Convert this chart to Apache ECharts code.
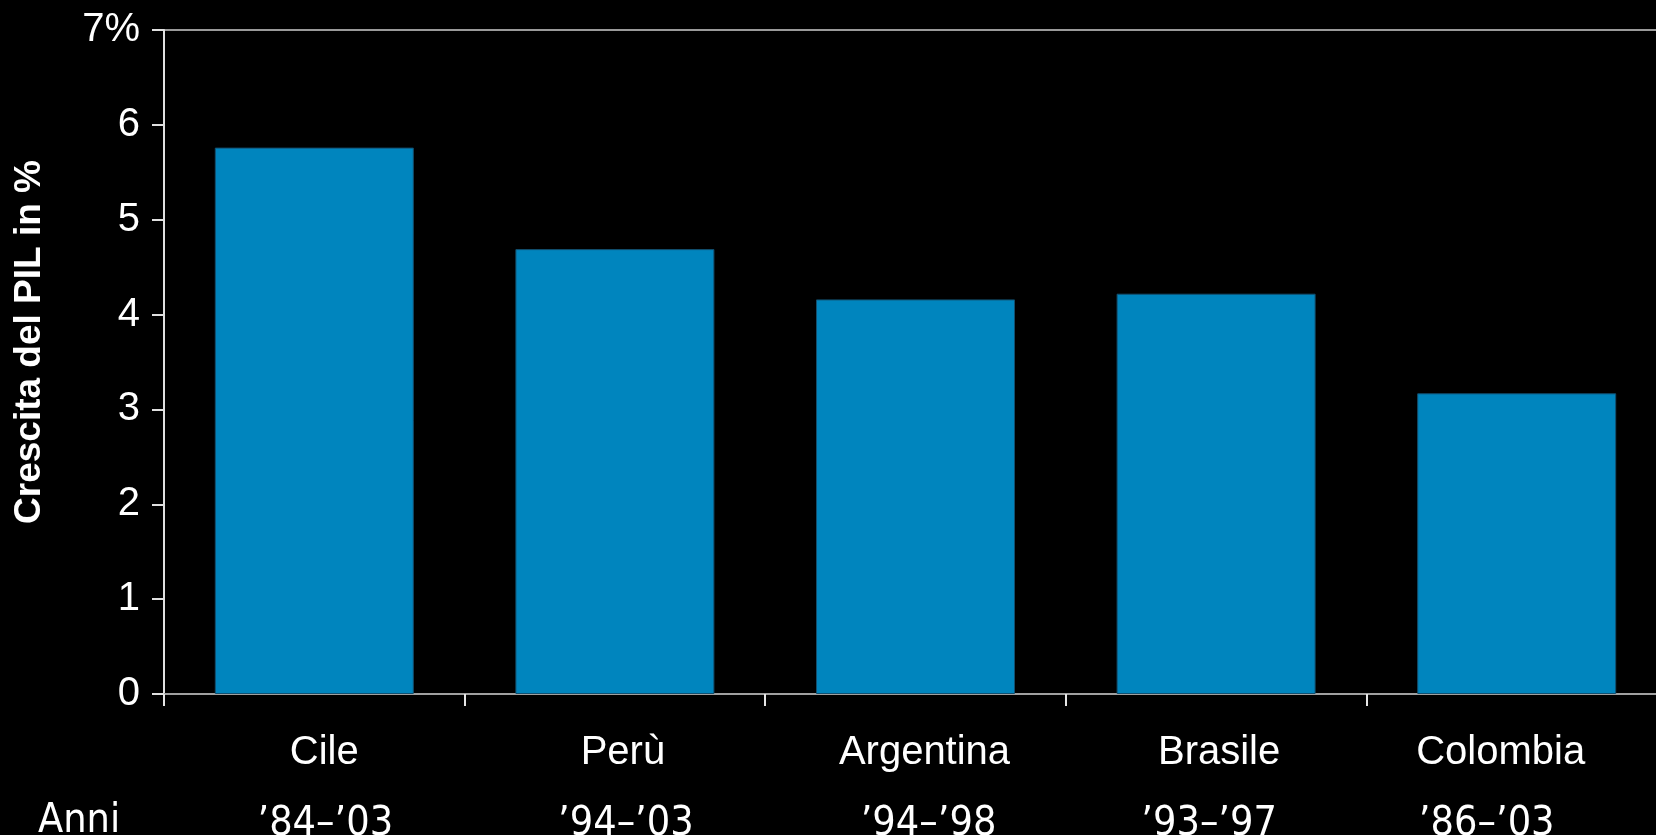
<!DOCTYPE html>
<html>
<head>
<meta charset="utf-8">
<title>Crescita del PIL</title>
<script src="https://cdn.jsdelivr.net/npm/echarts@6/dist/echarts.min.js"></script>
<style>
  html, body { margin: 0; padding: 0; background: #000; }
  #chart { width: 1656px; height: 835px; }
</style>
</head>
<body>
<div id="chart"></div>
<script>
// GDP growth by country and period
const countries = ['Cile', 'Perù', 'Argentina', 'Brasile', 'Colombia'];
const periods = ['\u201984\u2013\u201903', '\u201994\u2013\u201903', '\u201994\u2013\u201998', '\u201993\u2013\u201997', '\u201986\u2013\u201903'];
const growth = [5.76, 4.69, 4.16, 4.22, 3.17];
const yTicks = [0, 1, 2, 3, 4, 5, 6, 7];

// small horizontal nudges (px) for the two label rows under each bar
const nameShift = [10, 8, 9, 3, -16];
const periodShift = [11, 11, 13, -7, -30];

const SANS = '"Liberation Sans", Arial, sans-serif';
const NARROW = '"Liberation Sans Narrow", "DejaVu Sans Condensed", sans-serif';

function shiftPad(dx) {
  return dx >= 0 ? [0, 0, 0, 2 * dx] : [0, -2 * dx, 0, 0];
}

const rich = {};
countries.forEach((c, i) => {
  rich['n' + i] = {
    fontFamily: SANS, fontSize: 40, color: '#fff', lineHeight: 60,
    padding: shiftPad(nameShift[i])
  };
  rich['p' + i] = {
    fontFamily: NARROW, fontSize: 41, color: '#fff', lineHeight: 82,
    padding: shiftPad(periodShift[i])
  };
});

const chart = echarts.init(document.getElementById('chart'), null, { renderer: 'canvas' });

chart.setOption({
  backgroundColor: '#000',
  animation: false,
  grid: {
    left: 164, top: 30, width: 1503, bottom: 141,
    outerBoundsMode: 'none',
    containLabel: false,
    show: true, borderColor: '#9a9a9a', borderWidth: 2, backgroundColor: 'transparent'
  },
  xAxis: {
    type: 'category',
    data: countries,
    boundaryGap: true,
    axisLine: { show: true, lineStyle: { color: '#a0a0a0', width: 2 } },
    axisTick: { show: true, length: 12, inside: false, lineStyle: { color: '#e6e6e6', width: 2 } },
    axisLabel: {
      margin: 29,
      interval: 0,
      formatter: (value, idx) => '{n' + idx + '|' + value + '}\n{p' + idx + '|' + periods[idx] + '}',
      rich: rich
    },
    splitLine: { show: false }
  },
  yAxis: {
    type: 'value',
    min: yTicks[0],
    max: yTicks[yTicks.length - 1],
    interval: 1,
    axisLine: { show: true, lineStyle: { color: '#e0e0e0', width: 2 } },
    axisTick: { show: true, length: 12, lineStyle: { color: '#e0e0e0', width: 2 } },
    axisLabel: {
      margin: 24,
      color: '#fff',
      fontFamily: SANS,
      fontSize: 40,
      formatter: v => (v === yTicks[yTicks.length - 1] ? v + '%' : String(v))
    },
    splitLine: { show: false }
  },
  graphic: [
    {
      type: 'text',
      x: 30, y: 342,
      rotation: Math.PI / 2,
      style: {
        text: 'Crescita del PIL in %',
        fill: '#fff',
        font: 'bold 37px ' + SANS,
        textAlign: 'center',
        textVerticalAlign: 'middle'
      }
    },
    {
      type: 'text',
      left: 38, top: 801,
      style: {
        text: 'Anni',
        fill: '#fff',
        font: '41px ' + NARROW
      }
    }
  ],
  series: [{
    type: 'bar',
    data: growth,
    barWidth: 199,
    itemStyle: { color: '#0085be', borderColor: '#124f6f', borderWidth: 1 },
    label: { show: false }
  }]
});
</script>
</body>
</html>
